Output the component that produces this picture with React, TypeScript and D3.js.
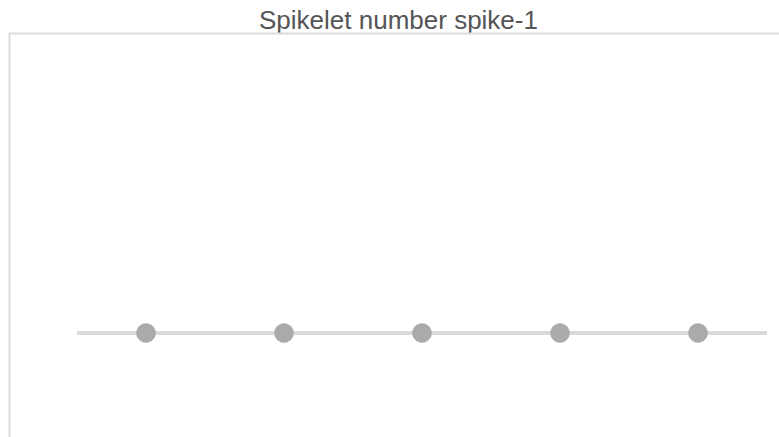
import React, { useEffect, useRef } from 'react';
import * as d3 from 'd3';

const title = 'Spikelet number spike-1';
const samples = ['S1', 'S2', 'S3', 'S4', 'S5'];
const spikeletValues = [16, 16, 16, 16, 16];
const yDomain = [0, 62];

const width = 779;
const height = 437;

const App = () => {
    const svgRef = useRef(null);

    useEffect(() => {
        const svg = d3.select(svgRef.current);
        svg.selectAll('*').remove();

        const frame = { left: 10, top: 34 };
        const x = d3.scalePoint().domain(samples).range([77, 767]).padding(0.5);
        const y = d3.scaleLinear().domain(yDomain).range([height, frame.top]);

        // title
        svg.append('text')
            .attr('x', 398.5)
            .attr('y', 29)
            .attr('text-anchor', 'middle')
            .style('font-family', '"Liberation Sans", Arial, sans-serif')
            .style('font-size', '26px')
            .style('fill', '#555')
            .text(title);

        // frame (top + left edges)
        svg.append('line')
            .attr('x1', frame.left - 1).attr('x2', width)
            .attr('y1', frame.top - 0.5).attr('y2', frame.top - 0.5)
            .style('stroke', '#dcdcdc').style('stroke-width', 2);
        svg.append('line')
            .attr('x1', frame.left - 0.5).attr('x2', frame.left - 0.5)
            .attr('y1', frame.top - 1.5).attr('y2', height)
            .style('stroke', '#dcdcdc').style('stroke-width', 2);

        // mean reference line
        const mean = d3.mean(spikeletValues);
        const [x0, x1] = x.range();
        svg.append('line')
            .attr('x1', x0).attr('x2', x1)
            .attr('y1', y(mean)).attr('y2', y(mean))
            .style('stroke', '#dadada').style('stroke-width', 4);

        // points
        svg.selectAll('circle')
            .data(samples)
            .enter()
            .append('circle')
            .attr('cx', (d) => x(d))
            .attr('cy', (d, i) => y(spikeletValues[i]))
            .attr('r', 9.5)
            .style('fill', '#aaaaaa')
            .style('stroke', '#a0a0a0')
            .style('stroke-width', 0.5);
    }, []);

    return (
        <svg
            ref={svgRef}
            width={width}
            height={height}
            style={{ position: 'absolute', left: 0, top: 0, background: '#fff' }}
        />
    );
};

export default App;
